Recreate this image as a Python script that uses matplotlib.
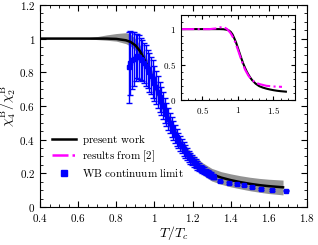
import matplotlib
matplotlib.use("Agg")
import matplotlib.pyplot as plt
from matplotlib.ticker import FuncFormatter, MultipleLocator
from matplotlib.lines import Line2D

plt.rcParams["mathtext.fontset"] = "cm"
plt.rcParams["font.family"] = "serif"
plt.rcParams["font.serif"] = ["DejaVu Serif"]

# present work (line + error band)
T_pw = [0.2, 0.4, 0.5, 0.6, 0.65, 0.7, 0.75, 0.8, 0.85, 0.875, 0.9, 0.925, 0.95, 0.975, 1.0,
        1.025, 1.05, 1.075, 1.1, 1.125, 1.15, 1.175, 1.2, 1.25, 1.3, 1.35, 1.4, 1.45,
        1.5, 1.55, 1.6, 1.675]
chi_pw = [1.0, 1.0, 1.0, 1.0, 1.0, 1.0, 1.0, 0.998, 0.99, 0.98, 0.96, 0.925, 0.87, 0.81, 0.735,
          0.66, 0.585, 0.515, 0.455, 0.4, 0.355, 0.315, 0.28, 0.23, 0.195, 0.175, 0.16, 0.148,
          0.138, 0.13, 0.124, 0.117]
band_hi = [1.0, 1.0, 1.0, 1.0, 1.005, 1.012, 1.022, 1.03, 1.035, 1.025, 1.0, 0.96, 0.905, 0.845, 0.77,
           0.695, 0.62, 0.55, 0.49, 0.435, 0.39, 0.35, 0.315, 0.265, 0.23, 0.21, 0.197, 0.186,
           0.177, 0.17, 0.165, 0.16]
band_lo = [1.0, 1.0, 1.0, 1.0, 0.998, 0.994, 0.99, 0.985, 0.97, 0.955, 0.93, 0.89, 0.835, 0.775, 0.70,
           0.625, 0.55, 0.48, 0.42, 0.365, 0.32, 0.28, 0.245, 0.193, 0.155, 0.135, 0.12, 0.108,
           0.097, 0.088, 0.08, 0.072]

# results from [2]
T_r2 = [0.2, 0.4, 0.6, 0.7, 0.75, 0.8, 0.85, 0.9, 0.95, 1.0, 1.05, 1.1, 1.15, 1.2, 1.25,
        1.3, 1.4, 1.5, 1.62]
chi_r2 = [1.0, 1.0, 1.0, 1.01, 1.025, 1.03, 1.0, 0.94, 0.85, 0.71, 0.56, 0.43, 0.34, 0.28,
          0.245, 0.225, 0.2, 0.19, 0.185]

# WB continuum limit
T_wb = [0.865, 0.874, 0.883, 0.892, 0.901, 0.910, 0.919, 0.928, 0.937, 0.946, 0.955, 0.964,
        0.973, 0.982, 0.991, 1.000, 1.009, 1.018, 1.027, 1.036, 1.045, 1.054, 1.063, 1.072,
        1.081, 1.090, 1.099, 1.108, 1.117, 1.126, 1.135, 1.144, 1.153, 1.162, 1.171, 1.180,
        1.189, 1.198, 1.207, 1.216, 1.225, 1.234, 1.243, 1.252, 1.261, 1.270, 1.279, 1.288,
        1.297, 1.306, 1.315, 1.344, 1.393, 1.431, 1.471, 1.513, 1.557, 1.618, 1.69]
chi_wb = [0.83, 0.855, 0.87, 0.88, 0.89, 0.895, 0.89, 0.88, 0.87, 0.855, 0.84, 0.82,
          0.80, 0.78, 0.76, 0.735, 0.71, 0.685, 0.655, 0.63, 0.60, 0.575, 0.55, 0.525,
          0.50, 0.475, 0.455, 0.435, 0.415, 0.395, 0.375, 0.36, 0.345, 0.33, 0.315, 0.30,
          0.29, 0.278, 0.267, 0.257, 0.247, 0.238, 0.23, 0.222, 0.215, 0.208, 0.201, 0.195,
          0.189, 0.183, 0.178, 0.152, 0.142, 0.135, 0.13, 0.12, 0.108, 0.10, 0.098]
err_wb = [0.21, 0.19, 0.17, 0.16, 0.14, 0.13, 0.13, 0.125, 0.12, 0.12, 0.12, 0.115,
          0.115, 0.11, 0.11, 0.105, 0.10, 0.095, 0.09, 0.085, 0.08, 0.075, 0.07, 0.065,
          0.06, 0.058, 0.055, 0.052, 0.05, 0.047, 0.045, 0.042, 0.04, 0.038, 0.036, 0.034,
          0.032, 0.03, 0.028, 0.026, 0.025, 0.024, 0.022, 0.021, 0.02, 0.019, 0.018, 0.017,
          0.016, 0.015, 0.014, 0.005, 0.005, 0.005, 0.005, 0.005, 0.005, 0.005, 0.005]


def fmt(v, pos):
    s = ("%.1f" % v).rstrip("0").rstrip(".")
    return "$%s$" % s


def style_ax(ax, size):
    ax.tick_params(which="both", direction="in", top=True, right=True, labelsize=size)
    ax.tick_params(which="major", length=4, width=0.8)
    ax.tick_params(which="minor", length=2, width=0.6)
    ax.xaxis.set_major_formatter(FuncFormatter(fmt))
    ax.yaxis.set_major_formatter(FuncFormatter(fmt))


fig = plt.figure(figsize=(3.18, 2.45), dpi=100)
ax = fig.add_axes([0.126, 0.155, 0.839, 0.825])

ax.fill_between(T_pw, band_lo, band_hi, color="#808080", alpha=0.85, lw=0)
ax.errorbar(T_wb, chi_wb, yerr=err_wb, fmt="s", color="#0000ff", ms=3.5,
            elinewidth=1.0, capsize=2, capthick=1.0)
ax.plot(T_pw, chi_pw, color="black", lw=1.8)

ax.set_xlim(0.4, 1.8)
ax.set_ylim(0, 1.2)
ax.xaxis.set_major_locator(MultipleLocator(0.2))
ax.xaxis.set_minor_locator(MultipleLocator(0.05))
ax.yaxis.set_major_locator(MultipleLocator(0.2))
ax.yaxis.set_minor_locator(MultipleLocator(0.05))
style_ax(ax, 8)
ax.set_xlabel(r"$T/T_c$", fontsize=10, labelpad=0)
ax.set_ylabel(r"$\chi^{\rm B}_4/\chi^{\rm B}_2$", fontsize=10, labelpad=1)

# legend: two line entries, then the data entry a bit further down
h_lines = [Line2D([], [], color="black", lw=1.8),
           Line2D([], [], color="#ff00ff", lw=1.8, ls="-.")]
l_lines = [r"$\mathrm{present\ work}$", r"$\mathrm{results\ from\ [2]}$"]
leg1 = ax.legend(h_lines, l_lines, loc="center left", bbox_to_anchor=(0.028, 0.29),
                 frameon=False, fontsize=8, handlelength=2.2, handletextpad=0.5,
                 labelspacing=0.15, borderaxespad=0)
ax.add_artist(leg1)
ax.legend([Line2D([], [], color="#0000ff", ls="none", marker="s", ms=4)],
          [r"$\mathrm{WB\ continuum\ limit}$"], loc="center left",
          bbox_to_anchor=(0.028, 0.168), frameon=False, fontsize=8,
          handlelength=2.2, handletextpad=0.5, borderaxespad=0)

ins = fig.add_axes([0.569, 0.592, 0.358, 0.347])
ins.plot(T_pw, chi_pw, color="black", lw=1.5)
ins.plot(T_r2, chi_r2, color="#ff00ff", lw=1.5, ls="-.")
ins.set_xlim(0.2, 1.8)
ins.set_ylim(0, 1.2)
ins.xaxis.set_major_locator(MultipleLocator(0.5))
ins.xaxis.set_minor_locator(MultipleLocator(0.1))
ins.yaxis.set_major_locator(MultipleLocator(0.5))
ins.yaxis.set_minor_locator(MultipleLocator(0.1))
style_ax(ins, 6.5)
ins.tick_params(which="major", length=3)
ins.tick_params(which="minor", length=1.5)

fig.savefig("out.png", dpi=100)
